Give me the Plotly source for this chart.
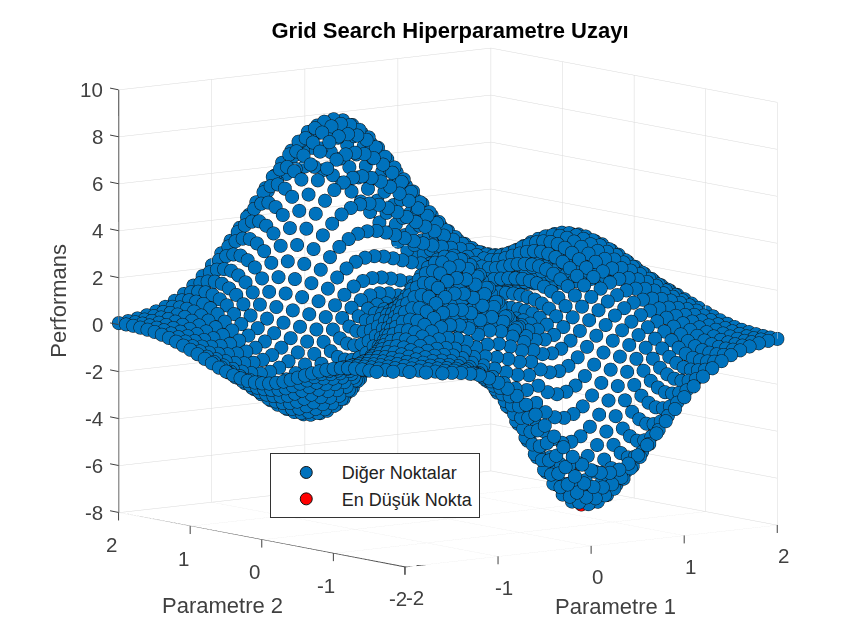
import plotly.graph_objects as go

param1 = [-2.0,-1.9,-1.8,-1.7,-1.6,-1.5,-1.4,-1.3,-1.2,-1.1,-1.0,-0.9,-0.8,-0.7,-0.6,-0.5,-0.4,-0.3,-0.2,-0.1,0.0,0.1,0.2,0.3,0.4,0.5,0.6,0.7,0.8,0.9,1.0,1.1,1.2,1.3,1.4,1.5,1.6,1.7,1.8,1.9,2.0]
param2 = [-2.0,-1.9,-1.8,-1.7,-1.6,-1.5,-1.4,-1.3,-1.2,-1.1,-1.0,-0.9,-0.8,-0.7,-0.6,-0.5,-0.4,-0.3,-0.2,-0.1,0.0,0.1,0.2,0.3,0.4,0.5,0.6,0.7,0.8,0.9,1.0,1.1,1.2,1.3,1.4,1.5,1.6,1.7,1.8,1.9,2.0]
# one row per Parametre 1 value, one column per Parametre 2 value
perf = [
[.05,.06,.07,.07,.08,.08,.07,.05,.01,-.05,-.13,-.23,-.36,-.50,-.65,-.80,-.95,-1.08,-1.19,-1.28,-1.33,-1.35,-1.34,-1.29,-1.22,-1.12,-1.01,-.88,-.75,-.61,-.48,-.36,-.25,-.15,-.07,-.01,.03,.06,.08,.08,.08],
[.06,.07,.08,.10,.11,.12,.11,.09,.05,-.02,-.12,-.24,-.39,-.57,-.76,-.96,-1.15,-1.32,-1.47,-1.58,-1.65,-1.68,-1.67,-1.61,-1.52,-1.40,-1.26,-1.10,-.93,-.76,-.59,-.43,-.29,-.16,-.06,.02,.07,.11,.13,.13,.12],
[.07,.08,.10,.13,.15,.16,.16,.14,.10,.03,-.08,-.22,-.41,-.62,-.86,-1.10,-1.34,-1.56,-1.74,-1.89,-1.98,-2.02,-2.01,-1.95,-1.84,-1.70,-1.53,-1.33,-1.12,-.91,-.69,-.49,-.31,-.16,-.03,.07,.14,.18,.20,.20,.19],
[.07,.09,.12,.15,.19,.22,.23,.22,.19,.12,0,-.16,-.38,-.63,-.91,-1.21,-1.50,-1.77,-2.00,-2.18,-2.30,-2.36,-2.35,-2.29,-2.16,-2.00,-1.79,-1.56,-1.31,-1.04,-.78,-.54,-.31,-.12,.04,.16,.24,.29,.30,.30,.28],
[.07,.09,.13,.18,.22,.27,.31,.32,.30,.24,.12,-.05,-.29,-.58,-.91,-1.25,-1.60,-1.92,-2.20,-2.42,-2.58,-2.65,-2.66,-2.59,-2.46,-2.27,-2.04,-1.76,-1.47,-1.16,-.85,-.55,-.28,-.05,.15,.29,.39,.44,.45,.43,.40],
[.05,.08,.12,.18,.25,.33,.39,.43,.45,.41,.30,.12,-.13,-.45,-.81,-1.21,-1.61,-1.98,-2.32,-2.58,-2.76,-2.87,-2.89,-2.82,-2.69,-2.49,-2.23,-1.92,-1.58,-1.22,-.86,-.51,-.19,.08,.31,.47,.58,.64,.64,.61,.55],
[0,.04,.09,.17,.27,.38,.48,.56,.62,.62,.53,.37,.12,-.22,-.62,-1.06,-1.51,-1.95,-2.33,-2.64,-2.86,-2.99,-3.03,-2.98,-2.85,-2.64,-2.36,-2.02,-1.64,-1.24,-.82,-.41,-.04,.28,.55,.73,.86,.90,.90,.84,.76],
[-.08,-.04,.02,.12,.25,.40,.55,.70,.81,.86,.82,.69,.45,.11,-.31,-.79,-1.28,-1.76,-2.19,-2.54,-2.81,-2.97,-3.04,-3.01,-2.88,-2.68,-2.39,-2.03,-1.61,-1.16,-.70,-.24,.19,.56,.87,1.07,1.20,1.25,1.22,1.14,1.01],
[-.19,-.16,-.09,.03,.18,.39,.59,.81,1.00,1.12,1.15,1.07,.87,.54,.12,-.37,-.90,-1.41,-1.88,-2.28,-2.58,-2.78,-2.88,-2.87,-2.77,-2.58,-2.29,-1.92,-1.48,-1.00,-.48,.03,.51,.93,1.27,1.49,1.63,1.66,1.61,1.49,1.32],
[-.36,-.34,-.27,-.14,.05,.32,.58,.89,1.17,1.39,1.51,1.50,1.35,1.07,.66,.16,-.38,-.92,-1.42,-1.85,-2.19,-2.43,-2.57,-2.59,-2.52,-2.35,-2.08,-1.70,-1.25,-.73,-.17,.39,.93,1.39,1.76,2.00,2.14,2.15,2.07,1.90,1.68],
[-.59,-.59,-.53,-.38,-.16,.16,.51,.91,1.30,1.63,1.86,1.95,1.88,1.65,1.28,.80,.26,-.29,-.82,-1.28,-1.65,-1.93,-2.10,-2.17,-2.14,-2.00,-1.75,-1.38,-.92,-.37,.23,.84,1.43,1.94,2.35,2.60,2.74,2.73,2.60,2.38,2.10],
[-.89,-.92,-.87,-.71,-.46,-.08,.34,.84,1.35,1.81,2.16,2.37,2.40,2.25,1.93,1.49,.96,.41,-.13,-.60,-1.00,-1.31,-1.52,-1.63,-1.64,-1.55,-1.33,-.97,-.50,.07,.71,1.37,2.01,2.56,3.00,3.27,3.40,3.36,3.19,2.91,2.56],
[-1.24,-1.32,-1.29,-1.14,-.87,-.44,.06,.66,1.30,1.89,2.38,2.72,2.86,2.81,2.56,2.17,1.68,1.14,.61,.13,-.29,-.63,-.88,-1.03,-1.08,-1.03,-.84,-.50,-.03,.56,1.23,1.94,2.64,3.24,3.71,3.98,4.11,4.04,3.82,3.48,3.05],
[-1.66,-1.79,-1.80,-1.67,-1.38,-.91,-.34,.37,1.12,1.86,2.49,2.96,3.23,3.28,3.12,2.79,2.34,1.83,1.31,.83,.41,.05,-.23,-.42,-.52,-.50,-.34,-.02,.45,1.07,1.78,2.54,3.29,3.95,4.45,4.73,4.86,4.76,4.48,4.07,3.56],
[-2.13,-2.32,-2.38,-2.27,-1.99,-1.49,-.87,-.06,.81,1.67,2.44,3.05,3.44,3.60,3.53,3.27,2.87,2.40,1.91,1.44,1.02,.65,.35,.13,.01,-.01,.12,.43,.91,1.56,2.31,3.13,3.94,4.64,5.18,5.47,5.59,5.46,5.14,4.66,4.07],
[-2.64,-2.90,-3.02,-2.95,-2.68,-2.16,-1.50,-.62,.35,1.33,2.22,2.95,3.47,3.73,3.74,3.56,3.21,2.79,2.33,1.89,1.48,1.12,.81,.57,.42,.39,.51,.82,1.31,1.99,2.80,3.67,4.53,5.29,5.87,6.17,6.29,6.13,5.75,5.22,4.56],
[-3.15,-3.49,-3.68,-3.66,-3.42,-2.90,-2.21,-1.28,-.24,.84,1.84,2.68,3.29,3.64,3.74,3.62,3.34,2.97,2.55,2.13,1.75,1.40,1.09,.86,.70,.65,.78,1.10,1.62,2.33,3.19,4.12,5.04,5.85,6.47,6.79,6.91,6.72,6.31,5.71,4.99],
[-3.65,-4.07,-4.33,-4.37,-4.17,-3.66,-2.97,-2.02,-.92,.23,1.31,2.23,2.92,3.35,3.52,3.47,3.24,2.91,2.54,2.16,1.80,1.48,1.19,.97,.82,.78,.92,1.26,1.81,2.57,3.48,4.47,5.45,6.31,6.97,7.30,7.43,7.22,6.78,6.14,5.36],
[-4.10,-4.60,-4.93,-5.03,-4.89,-4.41,-3.74,-2.77,-1.65,-.46,.66,1.64,2.40,2.89,3.11,3.11,2.92,2.65,2.32,1.98,1.66,1.37,1.11,.91,.78,.77,.93,1.30,1.89,2.70,3.66,4.70,5.73,6.64,7.33,7.68,7.81,7.59,7.13,6.45,5.63],
[-4.48,-5.04,-5.44,-5.61,-5.52,-5.09,-4.45,-3.50,-2.38,-1.18,-.03,.97,1.76,2.29,2.56,2.59,2.45,2.22,1.93,1.64,1.36,1.11,.89,.72,.63,.65,.84,1.25,1.87,2.72,3.72,4.81,5.88,6.82,7.53,7.90,8.04,7.82,7.34,6.64,5.80],
[-4.76,-5.38,-5.83,-6.06,-6.03,-5.65,-5.05,-4.14,-3.05,-1.87,-.73,.29,1.09,1.64,1.93,2.00,1.90,1.71,1.46,1.21,.98,.77,.59,.46,.41,.46,.69,1.12,1.78,2.66,3.69,4.80,5.90,6.85,7.58,7.96,8.10,7.89,7.41,6.71,5.86],
[-4.92,-5.58,-6.08,-6.35,-6.37,-6.05,-5.50,-4.65,-3.60,-2.46,-1.34,-.35,.45,1.00,1.32,1.41,1.35,1.19,.99,.79,.60,.43,.29,.20,.18,.27,.52,.98,1.66,2.54,3.58,4.70,5.79,6.75,7.48,7.87,8.01,7.80,7.33,6.64,5.80],
[-4.96,-5.64,-6.16,-6.47,-6.54,-6.26,-5.78,-4.98,-3.99,-2.90,-1.83,-.87,-.09,.46,.78,.91,.87,.76,.60,.44,.29,.17,.07,.01,.02,.12,.39,.86,1.53,2.41,3.43,4.52,5.59,6.53,7.25,7.62,7.77,7.56,7.11,6.44,5.62],
[-4.87,-5.55,-6.08,-6.41,-6.50,-6.28,-5.84,-5.11,-4.19,-3.16,-2.15,-1.24,-.48,.06,.40,.54,.55,.47,.36,.24,.13,.04,-.03,-.07,-.04,.08,.34,.79,1.44,2.28,3.25,4.30,5.32,6.21,6.89,7.25,7.39,7.19,6.76,6.12,5.35],
[-4.66,-5.31,-5.84,-6.17,-6.28,-6.09,-5.71,-5.04,-4.19,-3.23,-2.28,-1.41,-.69,-.15,.20,.37,.41,.38,.31,.23,.16,.09,.04,.02,.05,.16,.40,.82,1.41,2.19,3.08,4.05,4.99,5.82,6.44,6.77,6.90,6.71,6.31,5.71,4.99],
[-4.35,-4.96,-5.46,-5.78,-5.90,-5.74,-5.39,-4.78,-4.00,-3.11,-2.22,-1.40,-.70,-.17,.19,.39,.47,.49,.46,.42,.38,.33,.29,.27,.29,.37,.58,.93,1.46,2.14,2.94,3.79,4.64,5.38,5.94,6.23,6.33,6.16,5.78,5.23,4.57],
[-3.96,-4.52,-4.97,-5.27,-5.38,-5.23,-4.92,-4.36,-3.64,-2.83,-2.00,-1.22,-.55,-.02,.36,.60,.72,.78,.80,.79,.77,.74,.70,.67,.66,.71,.85,1.13,1.56,2.13,2.81,3.55,4.27,4.91,5.39,5.63,5.71,5.54,5.20,4.70,4.10],
[-3.51,-4.01,-4.41,-4.67,-4.76,-4.63,-4.34,-3.83,-3.17,-2.41,-1.64,-.90,-.25,.27,.67,.94,1.10,1.21,1.26,1.29,1.29,1.26,1.22,1.16,1.12,1.12,1.20,1.39,1.71,2.16,2.71,3.31,3.91,4.43,4.83,5.02,5.07,4.91,4.59,4.15,3.61],
[-3.03,-3.46,-3.80,-4.02,-4.09,-3.96,-3.69,-3.22,-2.61,-1.92,-1.20,-.50,.12,.64,1.06,1.36,1.57,1.71,1.80,1.85,1.87,1.84,1.79,1.71,1.63,1.57,1.58,1.68,1.89,2.21,2.62,3.08,3.55,3.96,4.26,4.39,4.42,4.26,3.98,3.59,3.12],
[-2.56,-2.91,-3.20,-3.37,-3.41,-3.28,-3.02,-2.59,-2.04,-1.40,-.73,-.07,.53,1.05,1.47,1.80,2.04,2.22,2.35,2.42,2.44,2.41,2.34,2.24,2.12,2.00,1.94,1.95,2.05,2.25,2.53,2.86,3.20,3.50,3.72,3.80,3.80,3.65,3.39,3.05,2.65],
[-2.10,-2.39,-2.61,-2.74,-2.76,-2.62,-2.38,-1.98,-1.48,-.89,-.27,.34,.91,1.42,1.85,2.20,2.47,2.68,2.82,2.91,2.94,2.91,2.82,2.69,2.54,2.38,2.25,2.18,2.19,2.28,2.44,2.64,2.87,3.07,3.21,3.24,3.21,3.07,2.84,2.55,2.21],
[-1.68,-1.91,-2.07,-2.16,-2.16,-2.02,-1.79,-1.42,-.97,-.44,.13,.70,1.24,1.73,2.16,2.51,2.80,3.02,3.18,3.28,3.31,3.28,3.18,3.03,2.85,2.65,2.47,2.33,2.26,2.26,2.31,2.42,2.54,2.66,2.73,2.72,2.67,2.54,2.34,2.09,1.81],
[-1.31,-1.48,-1.60,-1.66,-1.63,-1.50,-1.28,-.95,-.54,-.06,.45,.97,1.47,1.94,2.36,2.71,3.00,3.23,3.40,3.50,3.53,3.50,3.39,3.23,3.03,2.81,2.59,2.41,2.27,2.19,2.17,2.19,2.23,2.28,2.30,2.26,2.19,2.07,1.89,1.69,1.45],
[-1.00,-1.12,-1.20,-1.23,-1.19,-1.06,-.86,-.56,-.20,.23,.69,1.16,1.62,2.05,2.44,2.79,3.07,3.30,3.47,3.57,3.60,3.56,3.45,3.29,3.08,2.84,2.60,2.39,2.21,2.08,2.00,1.96,1.94,1.93,1.91,1.85,1.78,1.66,1.51,1.34,1.15],
[-.74,-.82,-.87,-.88,-.83,-.71,-.52,-.26,.06,.43,.83,1.24,1.65,2.05,2.41,2.72,2.99,3.21,3.37,3.47,3.50,3.46,3.35,3.19,2.98,2.75,2.51,2.28,2.08,1.92,1.80,1.71,1.66,1.61,1.56,1.49,1.41,1.31,1.18,1.04,.89],
[-.53,-.58,-.61,-.60,-.55,-.44,-.28,-.05,.22,.54,.88,1.24,1.60,1.94,2.26,2.55,2.80,3.00,3.15,3.23,3.26,3.22,3.12,2.97,2.77,2.55,2.32,2.09,1.89,1.72,1.58,1.47,1.39,1.32,1.25,1.18,1.10,1.01,.91,.79,.67],
[-.37,-.40,-.41,-.40,-.34,-.24,-.10,.09,.32,.58,.87,1.18,1.48,1.79,2.07,2.32,2.54,2.72,2.85,2.93,2.95,2.92,2.83,2.69,2.51,2.30,2.09,1.87,1.68,1.50,1.36,1.24,1.15,1.07,1.00,.92,.85,.77,.69,.60,.51],
[-.25,-.27,-.27,-.25,-.20,-.11,.01,.16,.35,.57,.81,1.07,1.32,1.58,1.82,2.03,2.22,2.37,2.49,2.55,2.57,2.54,2.46,2.34,2.18,2.00,1.81,1.62,1.44,1.28,1.14,1.03,.93,.85,.78,.71,.65,.58,.51,.44,.37],
[-.16,-.17,-.17,-.14,-.10,-.03,.07,.20,.35,.53,.72,.93,1.13,1.34,1.54,1.72,1.88,2.01,2.10,2.16,2.17,2.15,2.08,1.98,1.84,1.69,1.52,1.36,1.20,1.06,.93,.83,.74,.67,.60,.54,.48,.43,.37,.32,.27],
[-.10,-.10,-.10,-.08,-.04,.02,.10,.20,.32,.46,.61,.78,.94,1.11,1.27,1.41,1.54,1.64,1.72,1.77,1.78,1.76,1.70,1.62,1.51,1.38,1.25,1.11,.98,.85,.75,.65,.58,.51,.45,.40,.36,.31,.27,.23,.19],
[-.06,-.06,-.05,-.03,0,.04,.10,.18,.27,.38,.50,.63,.75,.88,1.01,1.12,1.22,1.31,1.37,1.40,1.41,1.39,1.35,1.28,1.19,1.09,.99,.88,.77,.67,.58,.50,.44,.38,.34,.29,.26,.22,.19,.16,.13],
]
min_p1 = [0.2]
min_p2 = [-1.6]
min_perf = [-6.54]
xticks = [-2, -1, 0, 1, 2]
yticks = [-2, -1, 0, 1, 2]
zticks = [-8, -6, -4, -2, 0, 2, 4, 6, 8, 10]

# every grid point except the lowest one, which has its own trace
cells = [(x, y, v) for x, row in zip(param1, perf) for y, v in zip(param2, row)
         if not (x == min_p1[0] and y == min_p2[0])]
xs = [c[0] for c in cells]
ys = [c[1] for c in cells]
zs = [c[2] for c in cells]
BLUE, RED, EDGE, INK = "#0072BD", "#FF0000", "#111111", "#404040"
MS = 7.8
F = "Liberation Sans"

fig = go.Figure()
fig.add_trace(go.Scatter3d(x=min_p1, y=min_p2, z=min_perf, mode="markers", showlegend=False,
    marker=dict(size=MS, color=RED, line=dict(color=EDGE, width=1.5))))
fig.add_trace(go.Scatter3d(x=xs, y=ys, z=zs, mode="markers", showlegend=False,
    marker=dict(size=MS, color=BLUE, line=dict(color=EDGE, width=1.5))))
fig.add_trace(go.Scatter3d(x=[None], y=[None], z=[None], mode="markers", name="Diğer Noktalar",
    marker=dict(size=12, color=BLUE, line=dict(color=EDGE, width=1))))
fig.add_trace(go.Scatter3d(x=[None], y=[None], z=[None], mode="markers", name="En Düşük Nokta",
    marker=dict(size=12, color=RED, line=dict(color=EDGE, width=1))))

fig.add_trace(go.Scatter3d(x=[-2, 2, None, -2, -2, None, -2, -2], y=[-2, -2, None, -2, 2, None, 2, 2],
    z=[-8, -8, None, -8, -8, None, -8, 10], mode="lines", showlegend=False, hoverinfo="skip",
    line=dict(color=INK, width=2)))

def ax(rng, dtick):
    return dict(title=dict(text=""), range=rng, dtick=dtick, showbackground=False, showgrid=True,
                gridcolor="#D9D9D9", gridwidth=1, zeroline=False, showline=False,
                ticks="", showticklabels=False, showspikes=False)

def lab(text, x, y, z, dx, dy, anchor="center", size=20.5, angle=0):
    return dict(text=text, x=x, y=y, z=z, xshift=dx, yshift=dy, showarrow=False, xanchor=anchor, yanchor="middle",
                textangle=angle, font=dict(family=F, size=size, color=INK))

def tick(x, y, z, ax_, ay_):
    return dict(text=" ", x=x, y=y, z=z, showarrow=True, arrowhead=0, arrowwidth=1, arrowcolor=INK, ax=ax_, ay=ay_,
                font=dict(size=1))

ann = [lab(str(v), v, -2, -8, 6 if v > -2 else 10, -31) for v in xticks]
ann += [lab(str(v), -2, v, -8, -7, -32) for v in yticks]
ann += [lab(str(v), -2, 2, v, -14, 0, "right") for v in zticks]
ann += [lab("Parametre 1", 0, -2, -8, 24, -61, size=22),
        lab("Parametre 2", -2, 0, -8, -39, -66, size=22),
        lab("Performans", -2, 2, 1, -60, 0, size=22, angle=-90)]
ann += [tick(v, -2, -8, 0, 10) for v in xticks]
ann += [tick(-2, v, -8, 0, 10) for v in yticks]
ann += [tick(-2, 2, v, -10, -2) for v in zticks]

fig.update_layout(
    width=846, height=637, paper_bgcolor="white", margin=dict(l=0, r=0, t=0, b=0),
    title=dict(text="<b>Grid Search Hiperparametre Uzayı</b>", x=0.5225, xanchor="center", y=0.965, yanchor="middle",
               font=dict(family=F, size=22, color="black")),
    font=dict(family=F),
    legend=dict(x=0.3094, y=0.301, xanchor="left", yanchor="top", bgcolor="white", bordercolor="#333", borderwidth=1,
                font=dict(size=18, color="#222"), itemwidth=61),
    scene=dict(
        domain=dict(x=[0.04, 1], y=[0.06, 1]),
        aspectmode="manual", aspectratio=dict(x=1.568, y=1.568, z=1.427),
        camera=dict(projection=dict(type="orthographic"), center=dict(x=0, y=0, z=0),
                    eye=dict(x=-0.6, y=-0.78, z=0.145), up=dict(x=0, y=0, z=1)),
        xaxis=ax([-2, 2], 1),
        yaxis=ax([-2, 2], 1),
        zaxis=ax([-8, 10], 2),
        annotations=ann,
    ),
)
fig.write_html("out.html")
